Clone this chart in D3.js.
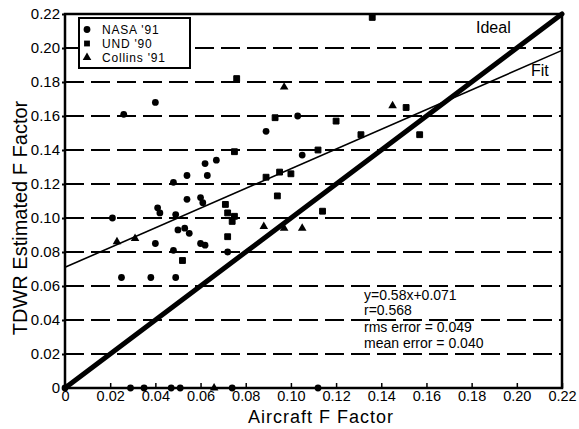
<!DOCTYPE html>
<html>
<head>
<meta charset="utf-8">
<script src="https://cdn.jsdelivr.net/npm/d3@7"></script>
<style>
  body { margin: 0; background: #fff; }
  text { font-family: "Liberation Sans", Arial, sans-serif; fill: #000; }
</style>
</head>
<body>
<div id="chart"></div>
<script>
// data (aircraft F, TDWR F)
var nasa = [
  [0.040, 0.168], [0.026, 0.161], [0.089, 0.151], [0.103, 0.160], [0.067, 0.134],
  [0.062, 0.132], [0.063, 0.125], [0.054, 0.125], [0.048, 0.121], [0.105, 0.137],
  [0.021, 0.100], [0.025, 0.065], [0.038, 0.065], [0.049, 0.065], [0.040, 0.085],
  [0.048, 0.081], [0.050, 0.093], [0.053, 0.094], [0.055, 0.091], [0.060, 0.085],
  [0.062, 0.084], [0.072, 0.080], [0.041, 0.106], [0.042, 0.103], [0.049, 0.102],
  [0.054, 0.111], [0.060, 0.112], [0.061, 0.109],
  [0, 0], [0.029, 0], [0.035, 0], [0.047, 0], [0.051, 0], [0.074, 0], [0.112, 0]
];
var und = [
  [0.136, 0.218], [0.076, 0.182], [0.093, 0.159], [0.120, 0.157], [0.075, 0.139],
  [0.089, 0.124], [0.095, 0.127], [0.100, 0.126], [0.112, 0.140], [0.131, 0.149],
  [0.151, 0.165], [0.157, 0.149], [0.114, 0.104], [0.052, 0.075], [0.072, 0.089],
  [0.074, 0.098], [0.071, 0.108], [0.072, 0.103], [0.075, 0.101], [0.094, 0.113]
];
var collins = [
  [0.097, 0.177], [0.145, 0.166], [0.023, 0.086], [0.031, 0.088], [0.088, 0.095],
  [0.097, 0.094], [0.105, 0.094], [0.066, 0]
];
var fitSlope = 0.58;
var fitIntercept = 0.071;
var tickValues = [0, 0.02, 0.04, 0.06, 0.08, 0.10, 0.12, 0.14, 0.16, 0.18, 0.20, 0.22];
var tickLabels = ["0", "0.02", "0.04", "0.06", "0.08", "0.10", "0.12", "0.14", "0.16", "0.18", "0.20", "0.22"];
var gridValues = [0.02, 0.04, 0.06, 0.08, 0.10, 0.12, 0.14, 0.16, 0.18, 0.20];
var statLines = ["y=0.58x+0.071", "r=0.568", "rms error = 0.049", "mean error = 0.040"];
var legendNames = ["NASA '91", "UND '90", "Collins '91"];

var svgWidth = 579;
var svgHeight = 429;

var svg = d3.select("#chart")
  .append("svg")
  .attr("width", svgWidth)
  .attr("height", svgHeight);

svg.append("rect").attr("width", svgWidth).attr("height", svgHeight).attr("fill", "#fff");

var x = d3.scaleLinear().domain([0, 0.22]).range([65, 562]);
var y = d3.scaleLinear().domain([0, 0.22]).range([388, 14]);

// dashed horizontal grid
svg.append("g").selectAll("line")
  .data(gridValues)
  .enter()
  .append("line")
  .attr("x1", x(0))
  .attr("x2", x(0.22))
  .attr("y1", d => y(d))
  .attr("y2", d => y(d))
  .attr("stroke", "#000")
  .attr("stroke-width", 2)
  .attr("stroke-dasharray", "19,7");

// axes
var bottomAxis = d3.axisBottom(x)
  .tickValues(tickValues)
  .tickFormat((d, i) => tickLabels[i])
  .tickSize(-5)
  .tickPadding(3);
var gx = svg.append("g")
  .attr("transform", `translate(0, ${y(0)})`)
  .call(bottomAxis);
gx.select(".domain").remove();
gx.selectAll("line").attr("stroke-width", 1.5);
gx.selectAll("text").style("font-size", "14.5px");

var leftAxis = d3.axisLeft(y)
  .tickValues(tickValues)
  .tickFormat((d, i) => tickLabels[i])
  .tickSize(3)
  .tickPadding(2);
var gy = svg.append("g")
  .attr("transform", `translate(${x(0)}, 0)`)
  .call(leftAxis);
gy.select(".domain").remove();
gy.selectAll("line").attr("stroke-width", 2);
gy.selectAll("text").style("font-size", "15px");

// frame
svg.append("rect")
  .attr("x", x(0))
  .attr("y", y(0.22))
  .attr("width", x(0.22) - x(0))
  .attr("height", y(0) - y(0.22))
  .attr("fill", "none")
  .attr("stroke", "#000")
  .attr("stroke-width", 2.5);

// ideal line
svg.append("line")
  .attr("x1", x(0)).attr("y1", y(0))
  .attr("x2", x(0.22)).attr("y2", y(0.22))
  .attr("stroke", "#000")
  .attr("stroke-width", 5)
  .attr("stroke-linecap", "round");

// fit line
svg.append("line")
  .attr("x1", x(0)).attr("y1", y(fitIntercept))
  .attr("x2", x(0.22)).attr("y2", y(fitIntercept + fitSlope * 0.22))
  .attr("stroke", "#000")
  .attr("stroke-width", 1.6);

// points
var circleSym = d3.symbol().type(d3.symbolCircle).size(36);
var squareSym = d3.symbol().type(d3.symbolSquare).size(34);
var triSym = d3.symbol().type(d3.symbolTriangle).size(32);

svg.append("g").selectAll("path")
  .data(nasa)
  .enter()
  .append("path")
  .attr("d", circleSym)
  .attr("transform", d => `translate(${x(d[0])}, ${y(d[1])})`);

svg.append("g").selectAll("path")
  .data(und)
  .enter()
  .append("path")
  .attr("d", squareSym)
  .attr("stroke", "#000")
  .attr("stroke-width", 1)
  .attr("stroke-linejoin", "round")
  .attr("transform", d => `translate(${x(d[0])}, ${y(d[1])})`);

svg.append("g").selectAll("path")
  .data(collins)
  .enter()
  .append("path")
  .attr("d", triSym)
  .attr("transform", d => `translate(${x(d[0])}, ${y(d[1])})`);

// line labels
svg.append("text").attr("x", 476).attr("y", 33).style("font-size", "16px").text("Ideal");
svg.append("text").attr("x", 531).attr("y", 76).style("font-size", "16px").text("Fit");

// stats
svg.append("g").selectAll("text")
  .data(statLines)
  .enter()
  .append("text")
  .attr("x", 364)
  .attr("y", (d, i) => [300, 315, 332, 348][i])
  .style("font-size", "14px")
  .text(d => d);

// legend
var legend = svg.append("g");
legend.append("rect")
  .attr("x", 79).attr("y", 18)
  .attr("width", 111).attr("height", 50)
  .attr("fill", "#fff")
  .attr("stroke", "#000")
  .attr("stroke-width", 2);
var legendSyms = [circleSym, squareSym, triSym];
var legendY = [29.5, 43.5, 57.5];
legendNames.forEach(function (name, i) {
  legend.append("path")
    .attr("d", legendSyms[i])
    .attr("transform", `translate(87, ${legendY[i]})`);
  legend.append("text")
    .attr("x", 102)
    .attr("y", legendY[i] + 4.5)
    .style("font-size", "12px")
    .style("letter-spacing", "0.8px")
    .text(name);
});

// axis titles
svg.append("text")
  .attr("transform", "translate(27, 218) rotate(-90)")
  .attr("text-anchor", "middle")
  .style("font-size", "20px")
  .text("TDWR Estimated F Factor");

svg.append("text")
  .attr("x", 321)
  .attr("y", 423)
  .attr("text-anchor", "middle")
  .style("font-size", "18px")
  .style("letter-spacing", "1px")
  .text("Aircraft F Factor");
</script>
</body>
</html>
